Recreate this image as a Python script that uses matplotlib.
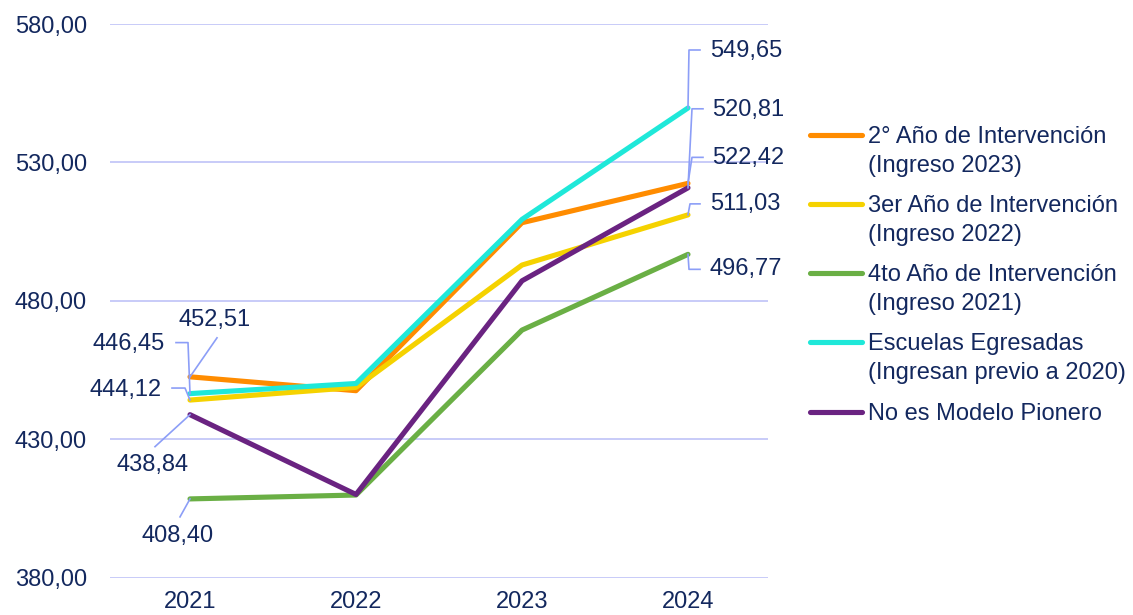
import matplotlib
matplotlib.use('Agg')
import matplotlib.pyplot as plt
from matplotlib.lines import Line2D
from matplotlib.transforms import IdentityTransform

plt.rcParams['font.family'] = ['Liberation Sans', 'DejaVu Sans']

# datos (puntaje promedio por año)
years = ['2021', '2022', '2023', '2024']
orange = [452.51, 447.5, 508.2, 522.42]
yellow = [444.12, 448.7, 492.9, 511.03]
green = [408.40, 409.8, 469.4, 496.77]
cyan = [446.45, 450.1, 509.4, 549.65]
purple = [438.84, 410.0, 487.2, 520.81]

series_names = ['2° Año de Intervención\n(Ingreso 2023)',
                '3er Año de Intervención\n(Ingreso 2022)',
                '4to Año de Intervención\n(Ingreso 2021)',
                'Escuelas Egresadas\n(Ingresan previo a 2020)',
                'No es Modelo Pionero']
series = [orange, yellow, green, cyan, purple]
colors = ['#FF8C00', '#F5D200', '#6AAF45', '#1FE8D9', '#6A2381']
yticks = [380, 430, 480, 530, 580]

TXT = '#13285E'
LEAD = '#8C9EF7'
W, H = 1133, 615

fig = plt.figure(figsize=(W / 100, H / 100), dpi=100)
ax = fig.add_axes([110 / W, 1 - 577.5 / H, (768 - 110) / W, (577.5 - 24) / H])

x = list(range(len(years)))
for vals, c in zip(series, colors):
    ax.plot(x, vals, color=c, lw=3.7, solid_capstyle='round', solid_joinstyle='round', zorder=3)

ax.set_xlim(-0.482, 3.482)
ax.set_ylim(380, 580)
ax.set_yticks(yticks)
ax.set_yticklabels([f'{v:.2f}'.replace('.', ',') for v in yticks])
ax.set_xticks(x)
ax.set_xticklabels(years)
ax.tick_params(axis='both', length=0, labelsize=17, labelcolor=TXT)
ax.tick_params(axis='y', pad=16.5)
ax.tick_params(axis='x', pad=10)
ax.grid(axis='y', color='#C8CBF8', lw=1.4)
ax.set_axisbelow(True)
for s in ax.spines.values():
    s.set_visible(False)

# etiquetas: (serie, indice, dx, dy, ha, leader) en pixeles, y hacia abajo
labels = [
    (0, 0, 25, -57, 'center', [(0, 0), (27, -39)]),
    (3, 0, -25, -50, 'right', [(0, 0), (-2, -51), (-14, -51)]),
    (1, 0, -28, -10, 'right', [(0, 0), (-5, -12), (-18, -12)]),
    (4, 0, -37, 50, 'center', [(0, 0), (-35, 32)]),
    (2, 0, -12, 37, 'center', [(0, 0), (-10, 18)]),
    (3, 3, 22, -57, 'left', [(0, 0), (1, -58), (12, -58)]),
    (4, 3, 24, -78, 'left', [(0, 0), (4, -79), (15, -79)]),
    (0, 3, 24, -25, 'left', [(0, 0), (4, -26), (15, -26)]),
    (1, 3, 22, -11, 'left', [(0, 0), (2, -11), (12, -11)]),
    (2, 3, 22, 15, 'left', [(0, 0), (1, 15), (12, 15)]),
]
for si, idx, dx, dy, ha, lead in labels:
    v = series[si][idx]
    px, py = ax.transData.transform((idx, v))
    ax.add_line(Line2D([px + a for a, b in lead], [py - b for a, b in lead],
                       transform=IdentityTransform(), color=LEAD, lw=1.2,
                       clip_on=False, zorder=4))
    fig.text((px + dx) / W, (py - dy) / H, f'{v:.2f}'.replace('.', ','),
             ha=ha, va='center', fontsize=17, color=TXT)

# leyenda manual
leg_y = [135, 204, 273, 342, 412]
for name, c, y in zip(series_names, colors, leg_y):
    fig.add_artist(Line2D([810 / W, 862 / W], [1 - y / H, 1 - y / H],
                          transform=fig.transFigure, color=c, lw=3.7,
                          solid_capstyle='round'))
    for k, line in enumerate(name.split('\n')):
        fig.text(868 / W, 1 - (y + 8 + 28.7 * k) / H, line, ha='left',
                 va='baseline', fontsize=17, color=TXT)

fig.savefig('out.png', dpi=100)
